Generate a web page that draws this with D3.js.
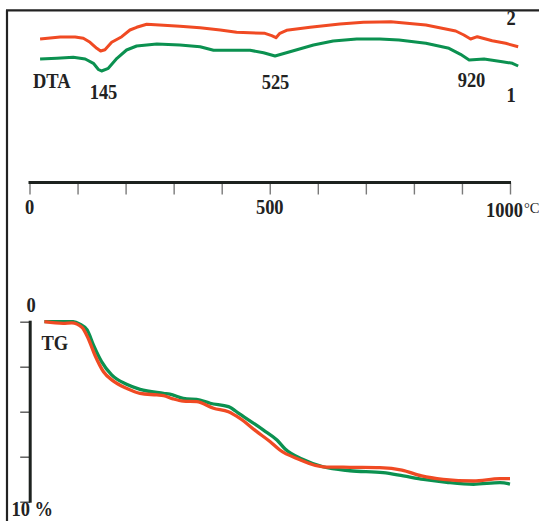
<!DOCTYPE html>
<html>
<head>
<meta charset="utf-8">
<script src="https://cdn.jsdelivr.net/npm/d3@7"></script>
<style>
  html, body { margin: 0; padding: 0; background: #fff; }
  svg { display: block; }
  .lbl { font-family: "Liberation Serif", "Times New Roman", serif; font-weight: bold; font-size: 18.5px; fill: #222; }
</style>
</head>
<body>
<svg id="chart" width="539" height="521"></svg>
<script>
// DTA signal (arbitrary units, up = exo), curve 1 green, curve 2 orange
const dtaTemp1 = [22, 57, 91, 116, 133, 143, 150, 164, 182, 202, 223, 265, 313, 355, 383, 459, 487, 511, 542, 591, 632, 681, 729, 769, 825, 873, 897, 915, 946, 984, 1005, 1017];
const dta1 = [21, 21.7, 22.7, 21, 16.7, 10.7, 9, 11.7, 21.7, 30, 34, 36, 35, 33.3, 29.7, 29.7, 27.3, 24, 28.3, 35, 39, 41, 41, 40, 36.7, 31.7, 25.7, 20, 21, 18.3, 16.7, 14];
const dtaTemp2 = [22, 64, 95, 112, 126, 140, 148, 157, 171, 192, 209, 223, 244, 279, 313, 355, 397, 431, 490, 504, 513, 521, 535, 584, 646, 695, 729, 752, 825, 887, 904, 918, 932, 963, 991, 1017];
const dta2 = [41, 43, 43, 41.7, 37.7, 31.7, 29, 30.3, 37.7, 43.3, 50, 52.7, 55.7, 54.7, 53.7, 52.3, 50, 47.7, 46.7, 44.3, 42.3, 46.7, 49.7, 52.7, 56, 57.7, 58, 58.3, 55, 49, 45, 41, 43.3, 39.3, 36.7, 33.3];

// TG mass loss (%)
const tgTemp1 = [31, 91, 105, 120, 133, 150, 171, 202, 230, 279, 292, 320, 355, 376, 414, 438, 487, 515, 532, 567, 611, 667, 736, 778, 820, 868, 924, 979, 1000];
const tg1 = [0, 0, 0.14, 0.46, 1.29, 2.22, 2.96, 3.48, 3.76, 3.98, 4.03, 4.26, 4.35, 4.53, 4.72, 5.14, 6.02, 6.57, 7.07, 7.63, 8.06, 8.28, 8.39, 8.57, 8.76, 8.92, 9.03, 8.94, 9.02];
const tgTemp2 = [31, 70, 88, 109, 122, 136, 154, 174, 202, 230, 265, 279, 299, 320, 348, 383, 414, 438, 473, 501, 521, 559, 611, 667, 729, 775, 816, 861, 924, 979, 1000];
const tg2 = [0, 0.09, 0.06, 0.31, 0.92, 1.85, 2.78, 3.29, 3.7, 3.98, 4.07, 4.11, 4.29, 4.41, 4.44, 4.81, 5.0, 5.37, 6.11, 6.67, 7.13, 7.63, 8.06, 8.09, 8.11, 8.24, 8.57, 8.76, 8.85, 8.72, 8.72];

const tempTicks = d3.range(0, 1001, 100);
const tempLabels = [0, 500];
const tgTicks = [0, 2.5, 5, 7.5, 10];
const peakLabels = ["145", "525", "920"];

const green = "#0b9150";
const orange = "#f04a23";
const ink = "#1d221f";

const svg = d3.select("#chart");

const x = d3.scaleLinear().domain([0, 1000]).range([29.5, 510]);
const yDta = d3.scaleLinear().domain([0, 70]).range([80, 10]);
const yTg = d3.scaleLinear().domain([0, 10]).range([321.7, 501.7]);

// frame (top + left)
svg.append("path")
  .attr("d", "M6,10.3H539M7,10.3V521")
  .attr("fill", "none").attr("stroke", "#222").attr("stroke-width", 2.2);

// temperature axis
const gx = svg.append("g").attr("transform", "translate(0,182.5)")
  .call(d3.axisBottom(x).tickValues(tempTicks).tickSize(12).tickFormat(""));
gx.select(".domain").remove();
gx.selectAll(".tick line").attr("stroke", "#7a7a7a").attr("stroke-width", 1.4);
gx.append("line").attr("x1", x(0) - 1).attr("x2", x(1000) + 1)
  .attr("stroke", ink).attr("stroke-width", 2.8);

function label(text, px, py) {
  return svg.append("text").attr("class", "lbl")
    .attr("transform", `translate(${px},${py}) scale(1,1.08)`)
    .text(text);
}

tempLabels.forEach((t) => label(t, x(t), 214).attr("text-anchor", "middle"));
label("1000", 523, 217).attr("text-anchor", "end");
svg.append("text").attr("x", 524).attr("y", 213)
  .attr("font-family", "Liberation Serif, serif").attr("font-size", 14.5).attr("fill", "#222")
  .text("°C");

// DTA
const lineDta = (ts, vs) => d3.line().x((d, i) => x(ts[i])).y((d) => yDta(d))(vs);
svg.append("path").attr("d", lineDta(dtaTemp2, dta2))
  .attr("fill", "none").attr("stroke", orange).attr("stroke-width", 3).attr("stroke-linejoin", "round");
svg.append("path").attr("d", lineDta(dtaTemp1, dta1))
  .attr("fill", "none").attr("stroke", green).attr("stroke-width", 3).attr("stroke-linejoin", "round");

label("DTA", 33, 88);
label(peakLabels[0], 103.5, 98.5).attr("text-anchor", "middle");
label(peakLabels[1], 275.5, 89).attr("text-anchor", "middle");
label(peakLabels[2], 471.5, 87).attr("text-anchor", "middle");
label("2", 506.5, 25);
label("1", 506.5, 102);

// TG axis
const gy = svg.append("g").attr("transform", "translate(30.2,0)")
  .call(d3.axisLeft(yTg).tickValues(tgTicks).tickSize(10).tickFormat(""));
gy.select(".domain").remove();
gy.selectAll(".tick line").attr("stroke", "#555").attr("stroke-width", 1.4);
gy.append("line").attr("y1", yTg(0) - 1).attr("y2", yTg(10) + 1)
  .attr("stroke", ink).attr("stroke-width", 3);

label("0", 31, 311.5).attr("text-anchor", "middle");
label("TG", 41.5, 350);
label("10 %", 11.5, 516);

// TG curves
const lineTg = (ts, vs) => d3.line().curve(d3.curveMonotoneX).x((d, i) => x(ts[i])).y((d) => yTg(d))(vs);
svg.append("path").attr("d", lineTg(tgTemp1, tg1))
  .attr("fill", "none").attr("stroke", green).attr("stroke-width", 3.3).attr("stroke-linejoin", "round");
svg.append("path").attr("d", lineTg(tgTemp2, tg2))
  .attr("fill", "none").attr("stroke", orange).attr("stroke-width", 3.3).attr("stroke-linejoin", "round");
</script>
</body>
</html>
